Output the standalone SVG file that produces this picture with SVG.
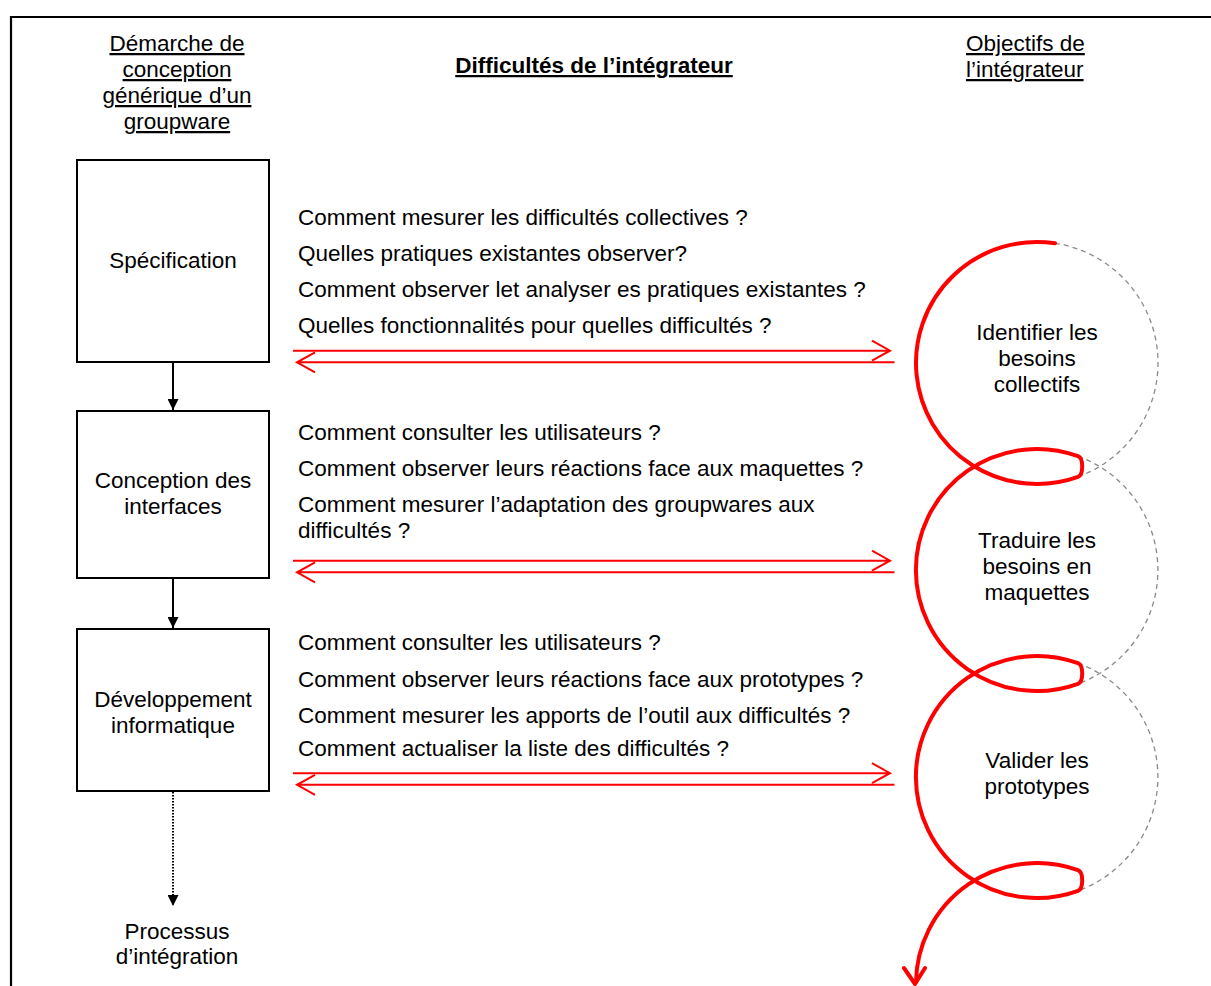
<svg xmlns="http://www.w3.org/2000/svg" width="1211" height="986" viewBox="0 0 1211 986">
  <style>
    text { font-family: "Liberation Sans", Arial, sans-serif; font-size: 22.5px; fill: #000; }
    .head { text-decoration: underline; }
    .bold { font-weight: bold; }
    .mid { text-anchor: middle; }
    .box { fill: #fff; stroke: #000; stroke-width: 2; }
    .flow { stroke: #000; stroke-width: 2; fill: none; }
    .dots { stroke: #000; stroke-width: 2; stroke-dasharray: 1.5 1.5; fill: none; }
    .red { stroke: #ff0000; stroke-width: 2; fill: none; }
    .spiral { stroke: #ff0000; stroke-width: 4; fill: none; stroke-linecap: round; stroke-linejoin: round; }
    .ghost { stroke: #8a8a8a; stroke-width: 1.3; stroke-dasharray: 5 4; fill: none; }
  </style>
  <defs>
    <marker id="tri" viewBox="0 0 10 10" refX="10" refY="5" markerWidth="11" markerHeight="11" markerUnits="userSpaceOnUse" orient="auto">
      <path d="M0 0 L10 5 L0 10 Z" fill="#000"/>
    </marker>
  </defs>

  <rect width="1211" height="986" fill="#fff"/>

  <!-- outer frame (top and left edges only) -->
  <path d="M10 17 H1211 M11 16 V986" stroke="#000" stroke-width="2.2" fill="none"/>

  <!-- column headings -->
  <g id="heading-left">
    <text class="head mid" x="177" y="51">Démarche de</text>
    <text class="head mid" x="177" y="77">conception</text>
    <text class="head mid" x="177" y="103">générique d’un</text>
    <text class="head mid" x="177" y="129">groupware</text>
  </g>
  <g id="heading-center">
    <text class="head mid bold" x="594" y="73">Difficultés de l’intégrateur</text>
  </g>
  <g id="heading-right">
    <text class="head" x="966" y="51">Objectifs de</text>
    <text class="head" x="966" y="77">l’intégrateur</text>
  </g>

  <!-- design steps -->
  <g id="step-specification">
    <rect class="box" x="77" y="160" width="192" height="202"/>
    <text class="mid" x="173" y="268">Spécification</text>
  </g>
  <g id="step-interfaces">
    <rect class="box" x="77" y="411" width="192" height="167"/>
    <text class="mid" x="173" y="488">Conception des</text>
    <text class="mid" x="173" y="514">interfaces</text>
  </g>
  <g id="step-development">
    <rect class="box" x="77" y="629" width="192" height="162"/>
    <text class="mid" x="173" y="707">Développement</text>
    <text class="mid" x="173" y="733">informatique</text>
  </g>
  <g id="step-integration">
    <text class="mid" x="177" y="939">Processus</text>
    <text class="mid" x="177" y="964">d’intégration</text>
  </g>

  <!-- questions -->
  <g id="questions-specification">
    <text x="298" y="225">Comment mesurer les difficultés collectives ?</text>
    <text x="298" y="261">Quelles pratiques existantes observer?</text>
    <text x="298" y="297">Comment observer let analyser es pratiques existantes ?</text>
    <text x="298" y="333">Quelles fonctionnalités pour quelles difficultés ?</text>
  </g>
  <g id="questions-interfaces">
    <text x="298" y="440">Comment consulter les utilisateurs ?</text>
    <text x="298" y="476">Comment observer leurs réactions face aux maquettes ?</text>
    <text x="298" y="512">Comment mesurer l’adaptation des groupwares aux</text>
    <text x="298" y="538">difficultés ?</text>
  </g>
  <g id="questions-development">
    <text x="298" y="650">Comment consulter les utilisateurs ?</text>
    <text x="298" y="687">Comment observer leurs réactions face aux prototypes ?</text>
    <text x="298" y="723">Comment mesurer les apports de l’outil aux difficultés ?</text>
    <text x="298" y="756">Comment actualiser la liste des difficultés ?</text>
  </g>

  <!-- objectives -->
  <g id="goal-identify">
    <text class="mid" x="1037" y="340">Identifier les</text>
    <text class="mid" x="1037" y="366">besoins</text>
    <text class="mid" x="1037" y="392">collectifs</text>
  </g>
  <g id="goal-translate">
    <text class="mid" x="1037" y="548">Traduire les</text>
    <text class="mid" x="1037" y="574">besoins en</text>
    <text class="mid" x="1037" y="600">maquettes</text>
  </g>
  <g id="goal-validate">
    <text class="mid" x="1037" y="768">Valider les</text>
    <text class="mid" x="1037" y="794">prototypes</text>
  </g>

  <g id="connectors">
    <!-- step sequence -->
    <path class="flow" d="M173 362 V410" marker-end="url(#tri)"/>
    <path class="flow" d="M173 578 V628" marker-end="url(#tri)"/>
    <path class="dots" d="M173 792 V906" marker-end="url(#tri)"/>

    <!-- two-way exchanges between questions and objectives -->
    <g class="red">
      <path d="M293 350.7 H890 M872 340.7 L890 350.7 L872 360.7"/>
      <path d="M297 362.3 H894.5 M315 352.3 L297 362.3 L315 372.3"/>

      <path d="M293 560.7 H890 M872 550.7 L890 560.7 L872 570.7"/>
      <path d="M297 572.3 H894.5 M315 562.3 L297 572.3 L315 582.3"/>

      <path d="M293 773.2 H890 M872 763.2 L890 773.2 L872 783.2"/>
      <path d="M297 784.8 H894.5 M315 774.8 L297 784.8 L315 794.8"/>
    </g>

    <!-- unfinished turns of the iteration cycles -->
    <path class="ghost" d="M1055 243.3 A121 121 0 0 1 1078 476.8"/>
    <path class="ghost" d="M1078 456.2 A121 121 0 0 1 1078 683.8"/>
    <path class="ghost" d="M1078 663.2 A121 121 0 0 1 1078 890.8"/>

    <!-- iteration spiral -->
    <path class="spiral" d="M1055 243.3
      A121 121 0 1 0 1078 476.8
      C1083.6 474.8 1083.6 458.2 1078 456.2
      A121 121 0 1 0 1078 683.8
      C1083.6 681.8 1083.6 665.2 1078 663.2
      A121 121 0 1 0 1078 890.8
      C1083.6 888.8 1083.6 872.2 1078 870.2
      A121 121 0 0 0 916 982"/>
    <path class="spiral" d="M904 968 L915 984 L925 968"/>
  </g>
</svg>
